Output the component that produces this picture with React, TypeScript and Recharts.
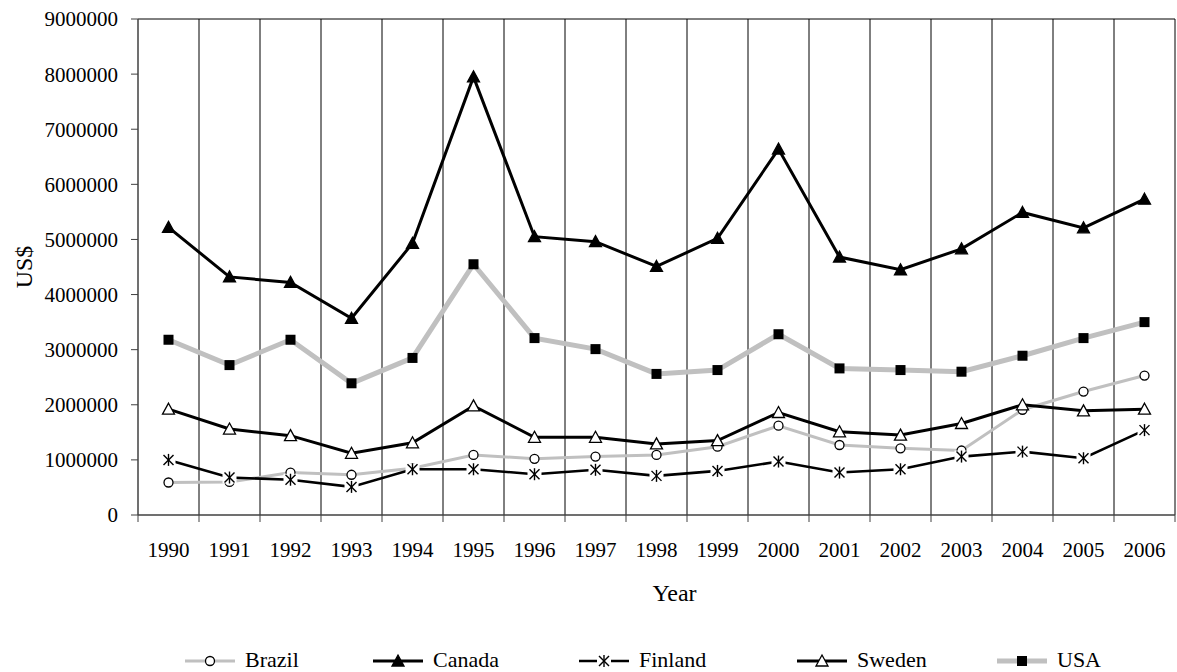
import { LineChart, Line, XAxis, YAxis, CartesianGrid, Legend, Label } from 'recharts';

const YEARS = ['1990', '1991', '1992', '1993', '1994', '1995', '1996', '1997', '1998', '1999', '2000', '2001', '2002', '2003', '2004', '2005', '2006'];
const BRAZIL = [590000, 600000, 770000, 730000, 850000, 1090000, 1020000, 1060000, 1090000, 1240000, 1620000, 1270000, 1210000, 1170000, 1910000, 2240000, 2530000];
const CANADA = [5220000, 4320000, 4220000, 3570000, 4930000, 7950000, 5050000, 4960000, 4510000, 5020000, 6640000, 4680000, 4450000, 4830000, 5490000, 5210000, 5730000];
const FINLAND = [1000000, 680000, 640000, 510000, 830000, 830000, 740000, 820000, 710000, 800000, 970000, 770000, 830000, 1060000, 1150000, 1030000, 1540000];
const SWEDEN = [1920000, 1560000, 1440000, 1120000, 1310000, 1980000, 1410000, 1410000, 1290000, 1350000, 1860000, 1510000, 1450000, 1660000, 2000000, 1890000, 1920000];
const USA = [3180000, 2720000, 3180000, 2390000, 2850000, 4550000, 3210000, 3010000, 2560000, 2630000, 3280000, 2660000, 2630000, 2600000, 2890000, 3210000, 3500000];
const Y_TICKS = [0, 1000000, 2000000, 3000000, 4000000, 5000000, 6000000, 7000000, 8000000, 9000000];

const data = YEARS.map((year, i) => ({
  year,
  Brazil: BRAZIL[i],
  Canada: CANADA[i],
  Finland: FINLAND[i],
  Sweden: SWEDEN[i],
  USA: USA[i],
}));

const W = 1177;
const H = 672;
const MARGIN = { top: 19, right: 2, left: 0, bottom: 0 };
const Y_AXIS_W = 138;
const PLOT_W = W - Y_AXIS_W - MARGIN.right;
const HALF_BAND = PLOT_W / YEARS.length / 2;
const FONT = '"Liberation Serif", "Times New Roman", serif';
const GRAY = '#c0c0c0';
const AXIS = '#404040';

// markers
function Circle({ cx, cy }: any) {
  return <circle cx={cx} cy={cy} r={4.5} fill="#fff" stroke="#000" strokeWidth={1.3} />;
}
function Triangle({ cx, cy, fill }: any) {
  return (
    <polygon
      points={`${cx},${cy - 6} ${cx + 6},${cy + 5} ${cx - 6},${cy + 5}`}
      fill={fill}
      stroke="#000"
      strokeWidth={1.3}
    />
  );
}
function Star({ cx, cy }: any) {
  return (
    <g>
      <rect x={cx - 7} y={cy - 6} width={14} height={12} fill="#fff" />
      <line x1={cx} y1={cy - 6} x2={cx} y2={cy + 6} stroke="#000" strokeWidth={1.4} />
      <line x1={cx - 5} y1={cy - 5} x2={cx + 5} y2={cy + 5} stroke="#000" strokeWidth={1.4} />
      <line x1={cx - 5} y1={cy + 5} x2={cx + 5} y2={cy - 5} stroke="#000" strokeWidth={1.4} />
    </g>
  );
}
function Square({ cx, cy }: any) {
  return <rect x={cx - 5} y={cy - 5} width={10} height={10} fill="#000" />;
}

const SERIES = [
  { key: 'Brazil', color: GRAY, width: 3, Marker: Circle, fill: '#fff', legendX: 185 },
  { key: 'Canada', color: '#000', width: 3, Marker: Triangle, fill: '#000', legendX: 373 },
  { key: 'Finland', color: '#000', width: 2.6, Marker: Star, fill: '#000', legendX: 579 },
  { key: 'Sweden', color: '#000', width: 3, Marker: Triangle, fill: '#fff', legendX: 797 },
  { key: 'USA', color: GRAY, width: 5, Marker: Square, fill: '#000', legendX: 997 },
];

function YearTick(props: any) {
  const { x, y, payload, index } = props;
  const last = index === YEARS.length - 1;
  return (
    <g>
      <line x1={x - HALF_BAND} y1={y} x2={x - HALF_BAND} y2={y + 7} stroke={AXIS} strokeWidth={1} />
      {last && <line x1={x + HALF_BAND} y1={y} x2={x + HALF_BAND} y2={y + 7} stroke={AXIS} strokeWidth={1} />}
      <text x={x} y={y + 42} textAnchor="middle" fontSize={21} fontFamily={FONT} fill="#000">
        {payload.value}
      </text>
    </g>
  );
}

function LegendContent() {
  return (
    <svg width={W} height={24} style={{ display: 'block' }}>
      {SERIES.map(s => {
        const M = s.Marker;
        return (
          <g key={s.key}>
            <line x1={s.legendX} y1={13} x2={s.legendX + 50} y2={13} stroke={s.color} strokeWidth={s.width} />
            <M cx={s.legendX + 25} cy={13} fill={s.fill} />
            <text x={s.legendX + 60} y={19} fontSize={22} fontFamily={FONT} fill="#000">
              {s.key}
            </text>
          </g>
        );
      })}
    </svg>
  );
}

export default function App() {
  return (
    <div style={{ position: 'absolute', left: 0, top: 0, background: '#fff' }}>
      <LineChart width={W} height={H} data={data} margin={MARGIN}>
        <CartesianGrid
          stroke="#000"
          strokeWidth={1}
          horizontalCoordinatesGenerator={({ offset }: any) => [offset.top]}
          verticalCoordinatesGenerator={({ offset }: any) =>
            YEARS.map((_, i) => offset.left + ((i + 1) * offset.width) / YEARS.length)
          }
        />
        <XAxis
          dataKey="year"
          scale="band"
          interval={0}
          height={133}
          tickSize={0}
          tickMargin={0}
          tickLine={false}
          axisLine={{ stroke: AXIS, strokeWidth: 1.5 }}
          tick={<YearTick />}
        >
          <Label
            value="Year"
            position="insideBottom"
            offset={47}
            dx={18}
            style={{ fontSize: 24, fontFamily: FONT, fill: '#000' }}
          />
        </XAxis>
        <YAxis
          width={Y_AXIS_W}
          domain={[0, 9000000]}
          ticks={Y_TICKS}
          interval={0}
          tickSize={7}
          tickMargin={13}
          tickLine={{ stroke: AXIS, strokeWidth: 1 }}
          axisLine={{ stroke: AXIS, strokeWidth: 1.5 }}
          tick={{ fontSize: 21, fontFamily: FONT, fill: '#000' }}
        >
          <Label
            value="US$"
            angle={-90}
            position="insideLeft"
            offset={23}
            style={{ fontSize: 24, fontFamily: FONT, fill: '#000', textAnchor: 'middle' }}
          />
        </YAxis>
        <Legend verticalAlign="bottom" content={<LegendContent />} />
        {SERIES.map(s => {
          const M = s.Marker;
          return (
            <Line
              key={s.key}
              dataKey={s.key}
              stroke={s.color}
              strokeWidth={s.width}
              isAnimationActive={false}
              dot={(p: any) => <M key={p.index} cx={p.cx} cy={p.cy} fill={s.fill} />}
              activeDot={false}
            />
          );
        })}
      </LineChart>
    </div>
  );
}
